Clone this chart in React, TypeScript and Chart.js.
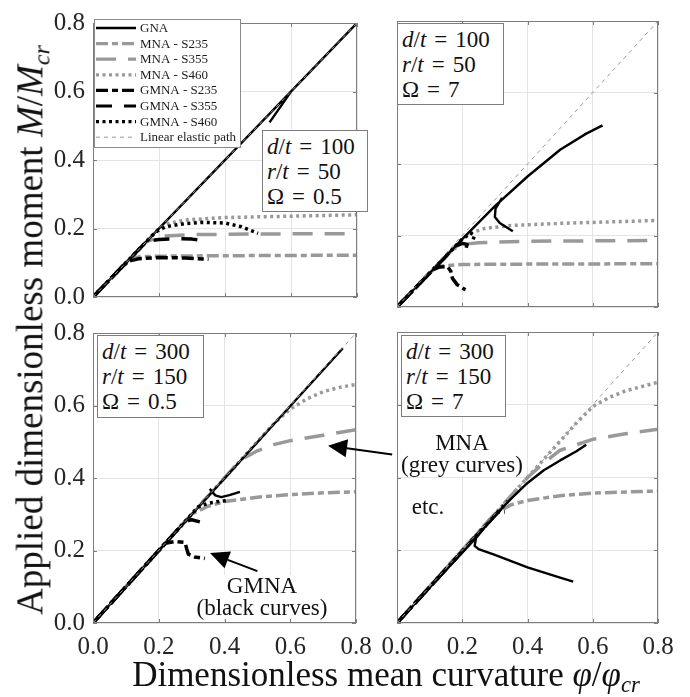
import React, { useEffect, useRef } from "react";
import { Chart, registerables } from "chart.js";

Chart.register(...registerables);

type Pt = [number | null, number | null];

// ---------- axes ----------
const TICK_VALUES = [0, 0.2, 0.4, 0.6, 0.8];
const TICK_LABELS = ["0.0", "0.2", "0.4", "0.6", "0.8"];
const AXIS_MIN = 0;
const AXIS_MAX = 0.8;

// ---------- shared ----------
const LINEAR_PATH: Pt[] = [[0, 0], [0.8, 0.8]];

// ---------- panel A: d/t=100, r/t=50, Omega=0.5 ----------
const A_GNA: Pt[] = [[0, 0], [0.8, 0.8], [null, null], [0.6, 0.6], [0.57, 0.558], [0.535, 0.51]];
const A_MNA_S235: Pt[] = [[0, 0], [0.1, 0.1], [0.12, 0.114], [0.15, 0.118], [0.2, 0.119], [0.3, 0.12], [0.5, 0.121], [0.8, 0.122]];
const A_MNA_S355: Pt[] = [[0, 0], [0.16, 0.16], [0.19, 0.172], [0.22, 0.178], [0.3, 0.182], [0.5, 0.184], [0.8, 0.185]];
const A_MNA_S460: Pt[] = [[0, 0], [0.2, 0.2], [0.23, 0.215], [0.28, 0.225], [0.4, 0.232], [0.6, 0.236], [0.8, 0.24]];
const A_GMNA_S235: Pt[] = [[0, 0], [0.09, 0.09], [0.11, 0.105], [0.14, 0.112], [0.2, 0.115], [0.28, 0.114], [0.35, 0.11]];
const A_GMNA_S355: Pt[] = [[0, 0], [0.16, 0.16], [0.18, 0.165], [0.2, 0.168], [0.26, 0.17], [0.3, 0.169], [0.34, 0.165]];
const A_GMNA_S460: Pt[] = [[0, 0], [0.19, 0.19], [0.22, 0.205], [0.27, 0.213], [0.33, 0.218], [0.4, 0.216], [0.45, 0.205], [0.5, 0.186]];

// ---------- panel B: d/t=100, r/t=50, Omega=7 ----------
const B_GNA: Pt[] = [[0, 0], [0.1, 0.095], [0.2, 0.19], [0.3, 0.282], [0.4, 0.365], [0.5, 0.44], [0.58, 0.485], [0.63, 0.508], [null, null], [0.322, 0.305], [0.302, 0.275], [0.3, 0.252], [0.315, 0.235], [0.355, 0.212]];
const B_MNA_S235: Pt[] = [[0, 0], [0.11, 0.105], [0.14, 0.115], [0.2, 0.119], [0.4, 0.12], [0.8, 0.121]];
const B_MNA_S355: Pt[] = [[0, 0], [0.17, 0.16], [0.2, 0.175], [0.25, 0.18], [0.4, 0.184], [0.8, 0.186]];
const B_MNA_S460: Pt[] = [[0, 0], [0.2, 0.19], [0.23, 0.208], [0.27, 0.22], [0.35, 0.228], [0.5, 0.234], [0.8, 0.242]];
const B_GMNA_S235: Pt[] = [[0, 0], [0.11, 0.104], [0.13, 0.112], [0.155, 0.113], [0.165, 0.1], [0.17, 0.08], [0.185, 0.062], [0.21, 0.048]];
const B_GMNA_S355: Pt[] = [[0, 0], [0.18, 0.17], [0.2, 0.178], [0.215, 0.175], [0.21, 0.16], [0.2, 0.14]];
const B_GMNA_S460: Pt[] = [[0, 0], [0.2, 0.19], [0.225, 0.207], [0.238, 0.2], [0.232, 0.186]];

// ---------- panel C: d/t=300, r/t=150, Omega=0.5 ----------
const C_GNA: Pt[] = [[0, 0], [0.76, 0.758], [null, null], [0.355, 0.37], [0.372, 0.352], [0.39, 0.347], [0.415, 0.353], [0.447, 0.362]];
const C_MNA_S235: Pt[] = [[0, 0], [0.3, 0.3], [0.35, 0.322], [0.4, 0.335], [0.5, 0.347], [0.6, 0.354], [0.7, 0.359], [0.8, 0.362]];
const C_MNA_S355: Pt[] = [[0, 0], [0.45, 0.45], [0.5, 0.475], [0.55, 0.492], [0.6, 0.503], [0.7, 0.518], [0.8, 0.533]];
const C_MNA_S460: Pt[] = [[0, 0], [0.55, 0.55], [0.6, 0.59], [0.65, 0.618], [0.7, 0.638], [0.75, 0.65], [0.8, 0.658]];
const C_GMNA_S235: Pt[] = [[0, 0], [0.22, 0.22], [0.25, 0.225], [0.28, 0.222], [0.285, 0.205], [0.29, 0.19], [0.31, 0.182], [0.34, 0.178]];
const C_GMNA_S355: Pt[] = [[0, 0], [0.28, 0.28], [0.3, 0.285], [0.325, 0.279]];
const C_GMNA_S460: Pt[] = [[0, 0], [0.32, 0.32], [0.35, 0.33], [0.38, 0.335], [0.41, 0.338]];

// ---------- panel D: d/t=300, r/t=150, Omega=7 ----------
const D_GNA: Pt[] = [[0, 0], [0.1, 0.097], [0.2, 0.193], [0.24, 0.232], [0.3, 0.296], [0.35, 0.342], [0.4, 0.385], [0.45, 0.42], [0.5, 0.447], [0.55, 0.472], [0.58, 0.49], [null, null], [0.242, 0.232], [0.238, 0.212], [0.25, 0.203], [0.3, 0.187], [0.4, 0.153], [0.5, 0.125], [0.54, 0.114]];
const D_MNA_S235: Pt[] = [[0, 0], [0.3, 0.3], [0.35, 0.325], [0.4, 0.337], [0.5, 0.35], [0.6, 0.357], [0.8, 0.363]];
const D_MNA_S355: Pt[] = [[0, 0], [0.4, 0.4], [0.45, 0.44], [0.5, 0.475], [0.6, 0.505], [0.7, 0.52], [0.8, 0.533]];
const D_MNA_S460: Pt[] = [[0, 0], [0.55, 0.55], [0.6, 0.595], [0.65, 0.62], [0.7, 0.638], [0.8, 0.662]];
const D_GMNA_S235: Pt[] = [[0, 0], [0.31, 0.305], [0.33, 0.305]];
const D_GMNA_S355: Pt[] = [[0, 0], [0.32, 0.315]];
const D_GMNA_S460: Pt[] = [[0, 0], [0.34, 0.335]];

// ---------- panel parameters ----------
const PANEL_DT = ["100", "100", "300", "300"];
const PANEL_RT = ["50", "50", "150", "150"];
const PANEL_OMEGA = ["0.5", "7", "0.5", "7"];

// ---------- annotation arrows (data coords of panel C) ----------
const ARROW_MNA: Pt[] = [[0.91, 0.465], [0.715, 0.489]];
const ARROW_GMNA: Pt[] = [[0.5, 0.143], [0.356, 0.193]];

// ---------- series styles ----------
const GREY = "#999999";
const SERIES = [
  { key: "GNA", label: "GNA", color: "#000000", width: 2.4, dash: [] as number[], order: 2 },
  { key: "MNA235", label: "MNA - S235", color: GREY, width: 3.5, dash: [12, 4, 6, 4], order: 3 },
  { key: "MNA355", label: "MNA - S355", color: GREY, width: 3.5, dash: [20, 12], order: 3 },
  { key: "MNA460", label: "MNA - S460", color: GREY, width: 3.5, dash: [3, 3.5], order: 3 },
  { key: "GMNA235", label: "GMNA - S235", color: "#000000", width: 3.5, dash: [12, 4, 6, 4], order: 1 },
  { key: "GMNA355", label: "GMNA - S355", color: "#000000", width: 3.5, dash: [16, 12], order: 1 },
  { key: "GMNA460", label: "GMNA - S460", color: "#000000", width: 3.5, dash: [3, 3.5], order: 1 },
  { key: "LIN", label: "Linear elastic path", color: "#9a9a9a", width: 1, dash: [4, 4], order: 0 },
];

const SERIES_DATA: Record<string, Pt[]>[] = [
  { GNA: A_GNA, MNA235: A_MNA_S235, MNA355: A_MNA_S355, MNA460: A_MNA_S460, GMNA235: A_GMNA_S235, GMNA355: A_GMNA_S355, GMNA460: A_GMNA_S460, LIN: LINEAR_PATH },
  { GNA: B_GNA, MNA235: B_MNA_S235, MNA355: B_MNA_S355, MNA460: B_MNA_S460, GMNA235: B_GMNA_S235, GMNA355: B_GMNA_S355, GMNA460: B_GMNA_S460, LIN: LINEAR_PATH },
  { GNA: C_GNA, MNA235: C_MNA_S235, MNA355: C_MNA_S355, MNA460: C_MNA_S460, GMNA235: C_GMNA_S235, GMNA355: C_GMNA_S355, GMNA460: C_GMNA_S460, LIN: LINEAR_PATH },
  { GNA: D_GNA, MNA235: D_MNA_S235, MNA355: D_MNA_S355, MNA460: D_MNA_S460, GMNA235: D_GMNA_S235, GMNA355: D_GMNA_S355, GMNA460: D_GMNA_S460, LIN: LINEAR_PATH },
];

const FONT = '"Liberation Serif", serif';

// ---------- layout of the four panels ----------
const PANELS = [
  { left: 0, top: 0, w: 400, h: 320, pad: { top: 20, right: 43, bottom: 14 }, yW: 93, xH: 0, showX: false, showY: true, legend: true, arrows: false },
  { left: 360, top: 0, w: 330, h: 320, pad: { top: 21, right: 32, bottom: 13 }, yW: 37, xH: 0, showX: false, showY: false, legend: false, arrows: false },
  { left: 0, top: 310, w: 400, h: 387, pad: { top: 22, right: 44, bottom: 34 }, yW: 93, xH: 40, showX: true, showY: true, legend: false, arrows: true },
  { left: 360, top: 310, w: 330, h: 387, pad: { top: 22, right: 32, bottom: 34 }, yW: 37, xH: 40, showX: true, showY: false, legend: false, arrows: false },
];

const framePlugin = {
  id: "frame",
  afterDatasetsDraw(chart: any) {
    const { ctx, chartArea: a, scales } = chart;
    ctx.save();
    ctx.strokeStyle = "#7d7d7d";
    ctx.lineWidth = 1;
    ctx.setLineDash([]);
    ctx.strokeRect(a.left + 0.5, a.top + 0.5, a.right - a.left - 1, a.bottom - a.top - 1);
    ctx.beginPath();
    for (const v of TICK_VALUES) {
      const px = Math.round(scales.x.getPixelForValue(v)) + 0.5;
      ctx.moveTo(px, a.bottom); ctx.lineTo(px, a.bottom - 4);
      ctx.moveTo(px, a.top); ctx.lineTo(px, a.top + 4);
      const py = Math.round(scales.y.getPixelForValue(v)) + 0.5;
      ctx.moveTo(a.left, py); ctx.lineTo(a.left + 4, py);
      ctx.moveTo(a.right, py); ctx.lineTo(a.right - 4, py);
    }
    ctx.stroke();
    ctx.restore();
  },
};

const legendPlugin = {
  id: "ownLegend",
  afterDraw(chart: any) {
    if (!chart.options.plugins.ownLegend?.show) return;
    const { ctx } = chart;
    const x0 = 94, y0 = 19, w = 146, h = 128;
    ctx.save();
    ctx.fillStyle = "#ffffff";
    ctx.fillRect(x0, y0, w, h);
    ctx.strokeStyle = "#8a8a8a";
    ctx.lineWidth = 1;
    ctx.strokeRect(x0 + 0.5, y0 + 0.5, w, h);
    ctx.font = `13px ${FONT}`;
    ctx.textBaseline = "middle";
    chart.data.datasets.forEach((ds: any, i: number) => {
      const cy = y0 + 9 + i * 15.6;
      ctx.beginPath();
      ctx.strokeStyle = ds.borderColor;
      ctx.lineWidth = Math.min(ds.borderWidth, 3.2);
      ctx.setLineDash(ds.borderDash || []);
      ctx.moveTo(x0 + 2, cy);
      ctx.lineTo(x0 + 42, cy);
      ctx.stroke();
      ctx.setLineDash([]);
      ctx.fillStyle = "#1a1a1a";
      ctx.fillText(ds.label, x0 + 46, cy + 0.5);
    });
    ctx.restore();
  },
};

function drawArrow(ctx: CanvasRenderingContext2D, x1: number, y1: number, x2: number, y2: number) {
  const ang = Math.atan2(y2 - y1, x2 - x1);
  const L = 19, W = 9;
  const bx = x2 - L * Math.cos(ang), by = y2 - L * Math.sin(ang);
  ctx.beginPath();
  ctx.moveTo(x1, y1);
  ctx.lineTo(bx, by);
  ctx.stroke();
  ctx.beginPath();
  ctx.moveTo(x2, y2);
  ctx.lineTo(bx + W * Math.sin(ang), by - W * Math.cos(ang));
  ctx.lineTo(bx - W * Math.sin(ang), by + W * Math.cos(ang));
  ctx.closePath();
  ctx.fill();
}

const arrowPlugin = {
  id: "arrows",
  afterDraw(chart: any) {
    if (!chart.options.plugins.arrows?.show) return;
    const { ctx, scales } = chart;
    ctx.save();
    ctx.strokeStyle = "#000";
    ctx.fillStyle = "#000";
    ctx.lineWidth = 2;
    ctx.setLineDash([]);
    for (const arr of [ARROW_MNA, ARROW_GMNA]) {
      const [a, b] = arr;
      drawArrow(
        ctx,
        scales.x.getPixelForValue(a[0] as number), scales.y.getPixelForValue(a[1] as number),
        scales.x.getPixelForValue(b[0] as number), scales.y.getPixelForValue(b[1] as number)
      );
    }
    ctx.restore();
  },
};

function Panel({ idx }: { idx: number }) {
  const ref = useRef<HTMLCanvasElement>(null);
  const p = PANELS[idx];
  useEffect(() => {
    const data = SERIES_DATA[idx];
    const datasets = SERIES.map((s) => ({
      label: s.label,
      data: data[s.key].map(([x, y]) => ({ x, y })),
      borderColor: s.color,
      backgroundColor: s.color,
      borderWidth: s.width,
      borderDash: s.dash,
      borderCapStyle: "butt",
      borderJoinStyle: "round",
      pointRadius: 0,
      tension: 0,
      fill: false,
      order: s.order,
      spanGaps: false,
    }));
    const tickFont = { family: FONT, size: 25 };
    const chart = new Chart(ref.current as HTMLCanvasElement, {
      type: "line",
      data: { datasets } as any,
      options: {
        animation: false,
        responsive: false,
        maintainAspectRatio: false,
        events: [],
        layout: { padding: { left: 0, top: p.pad.top, right: p.pad.right, bottom: p.pad.bottom } },
        plugins: {
          legend: { display: false },
          tooltip: { enabled: false },
          ownLegend: { show: p.legend },
          arrows: { show: p.arrows },
        } as any,
        scales: {
          x: {
            type: "linear",
            min: AXIS_MIN,
            max: AXIS_MAX,
            grid: { color: "#e4e4e4", drawTicks: false, lineWidth: 1 },
            border: { display: false },
            afterBuildTicks: (s: any) => { s.ticks = TICK_VALUES.map((v) => ({ value: v })); },
            ticks: {
              display: p.showX,
              padding: 9,
              font: tickFont,
              color: "#262626",
              maxRotation: 0,
              callback: (_v: any, i: number) => TICK_LABELS[i],
            },
            afterFit: (s: any) => { s.height = p.xH; },
          },
          y: {
            type: "linear",
            min: AXIS_MIN,
            max: AXIS_MAX,
            grid: { color: "#e4e4e4", drawTicks: false, lineWidth: 1 },
            border: { display: false },
            afterBuildTicks: (s: any) => { s.ticks = TICK_VALUES.map((v) => ({ value: v })); },
            ticks: {
              display: p.showY,
              padding: 8,
              font: tickFont,
              color: "#262626",
              callback: (_v: any, i: number) => TICK_LABELS[i],
            },
            afterFit: (s: any) => { s.width = p.yW; },
          },
        },
      } as any,
      plugins: [framePlugin, legendPlugin, arrowPlugin] as any,
    });
    let alive = true;
    const fonts = (document as any).fonts;
    if (fonts && fonts.load) {
      Promise.all([fonts.load(`25px ${FONT}`), fonts.load(`13px ${FONT}`)])
        .then(() => { if (alive) chart.update(); })
        .catch(() => {});
    }
    return () => { alive = false; chart.destroy(); };
  }, [idx]);
  return (
    <canvas
      ref={ref}
      width={p.w}
      height={p.h}
      style={{ position: "absolute", left: p.left, top: p.top, width: p.w, height: p.h }}
    />
  );
}

const BOXES = [
  { left: 262, top: 130, w: 106, h: 82 },
  { left: 397, top: 23, w: 107, h: 82 },
  { left: 97, top: 335, w: 107, h: 83 },
  { left: 401, top: 335, w: 105, h: 82 },
];

function Eq() {
  return <span style={{ margin: "0 8px", fontStyle: "normal" }}>=</span>;
}

function ParamBox({ i }: { i: number }) {
  const b = BOXES[i];
  return (
    <div
      style={{
        position: "absolute",
        left: b.left,
        top: b.top,
        width: b.w,
        height: b.h,
        boxSizing: "border-box",
        background: "#fff",
        border: "1px solid #7d7d7d",
        fontFamily: FONT,
        fontSize: 23,
        lineHeight: "25px",
        padding: "3px 0 0 4px",
        whiteSpace: "nowrap",
        overflow: "hidden",
        color: "#111",
      }}
    >
      <div><i>d</i>/<i>t</i><Eq />{PANEL_DT[i]}</div>
      <div><i>r</i>/<i>t</i><Eq />{PANEL_RT[i]}</div>
      <div>Ω<Eq />{PANEL_OMEGA[i]}</div>
    </div>
  );
}

function Note({ x, y, children }: { x: number; y: number; children: React.ReactNode }) {
  return (
    <div
      style={{
        position: "absolute",
        left: x,
        top: y,
        transform: "translate(-50%, -50%)",
        fontFamily: FONT,
        fontSize: 23,
        lineHeight: "22px",
        textAlign: "center",
        whiteSpace: "nowrap",
        color: "#111",
        background: "#fff",
        padding: "0 2px",
      }}
    >
      {children}
    </div>
  );
}

export default function App() {
  return (
    <div
      style={{
        position: "absolute",
        left: 0,
        top: 0,
        width: 690,
        height: 697,
        background: "#fff",
        overflow: "hidden",
        fontFamily: FONT,
      }}
    >
      {PANELS.map((_, i) => <Panel key={i} idx={i} />)}
      {BOXES.map((_, i) => <ParamBox key={i} i={i} />)}
      <Note x={462} y={454}>MNA<br />(grey curves)</Note>
      <Note x={428} y={507}>etc.</Note>
      <Note x={262} y={597}>GMNA<br />(black curves)</Note>
      <div
        style={{
          position: "absolute",
          left: 36,
          top: 330,
          transform: "translate(-50%, -50%) rotate(-90deg)",
          fontSize: 37,
          whiteSpace: "nowrap",
          color: "#111",
          lineHeight: "40px",
        }}
      >
        Applied dimensionless moment <i>M</i>/<i>M</i>
        <sub style={{ fontSize: "0.65em", verticalAlign: "-0.3em" }}><i>cr</i></sub>
      </div>
      <div
        style={{
          position: "absolute",
          left: 386,
          top: 680,
          transform: "translate(-50%, -50%)",
          fontSize: 35,
          whiteSpace: "nowrap",
          color: "#111",
          lineHeight: "40px",
        }}
      >
        Dimensionless mean curvature <i>φ</i>/<i>φ</i>
        <sub style={{ fontSize: "0.65em", verticalAlign: "-0.3em" }}><i>cr</i></sub>
      </div>
    </div>
  );
}
